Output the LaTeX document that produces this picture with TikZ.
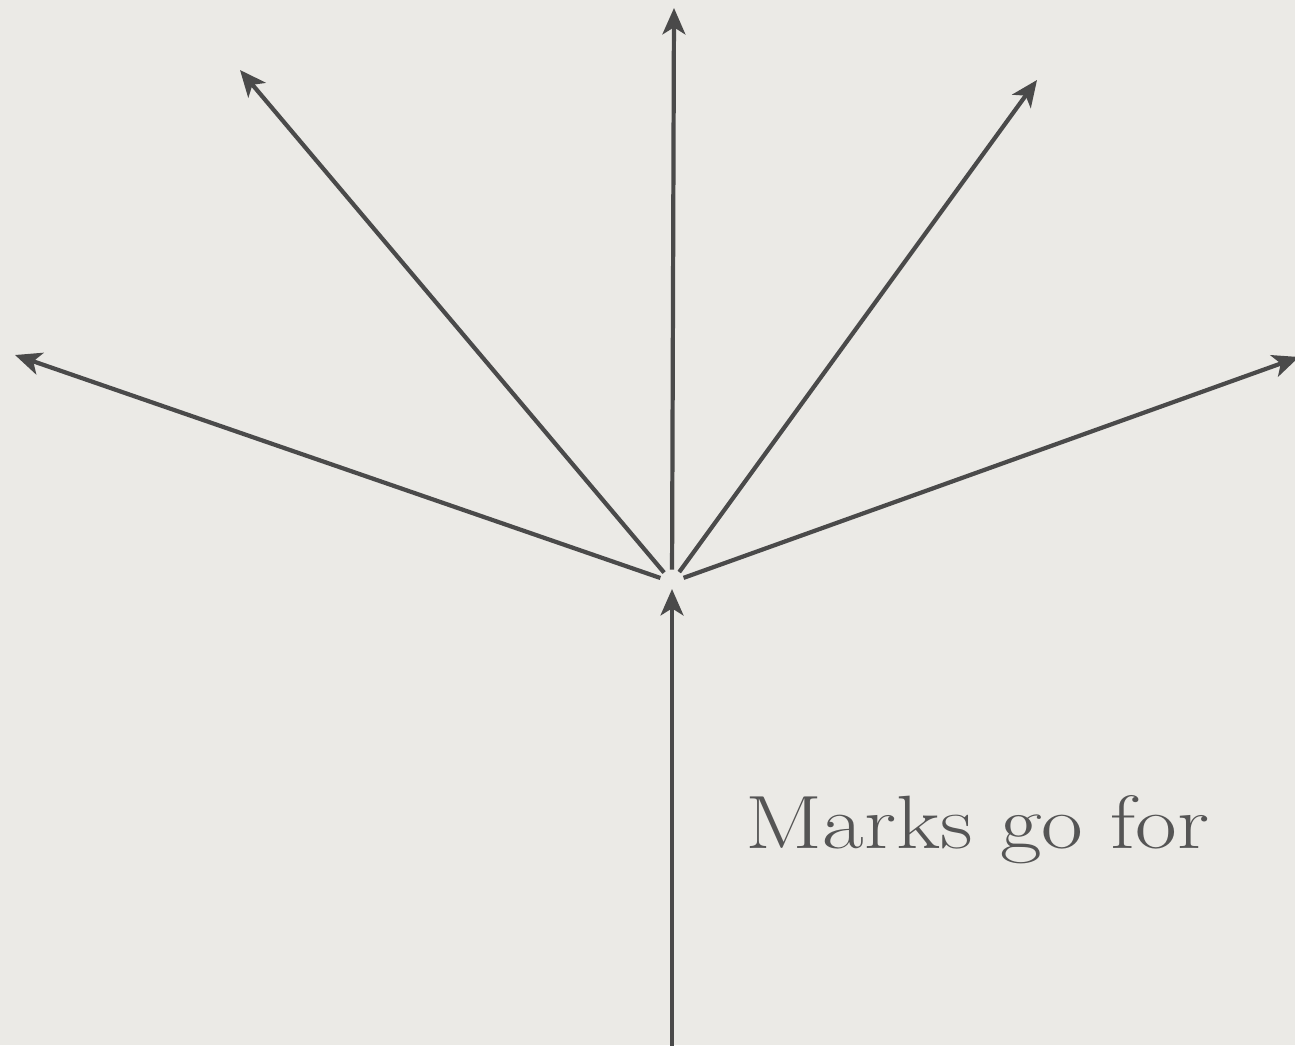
\documentclass[tikz,border=0pt]{standalone}
\usetikzlibrary{arrows.meta}
\definecolor{fondo}{HTML}{EBEAE6}
\definecolor{trazo}{HTML}{4A4A4A}
\definecolor{texto}{HTML}{555555}

\begin{document}
\begin{tikzpicture}[x=0.02cm, y=-0.02cm, >={Stealth[length=15pt, width=13pt, inset=4pt]},
      ray/.style={->, draw=trazo, line width=2.4pt},
      lbl/.style={text=texto, inner sep=0pt, font=\fontsize{43}{50}\selectfont}]
    \fill[fondo] (0,0) rectangle (1295,1045);
    \useasboundingbox (0,0) rectangle (1295,1045);
    % centre and ray ends
    \coordinate (o) at (672,582);
    \coordinate (up) at (674,8);
    \coordinate (ul) at (240,70);
    \coordinate (ur) at (1037,80);
    \coordinate (lf) at (15,355);
    \coordinate (rt) at (1299,357);
    \coordinate (bot) at (672,1050);
    \foreach \e in {up,ul,ur,lf,rt}
      \draw[ray, shorten <=7] (o) -- (\e);
    \draw[ray, shorten >=4] (bot) -- (o);
    \node[lbl, anchor=base west] (marks) at (745,848) {\scalebox{1.2}[1]{Marks go for}};
\end{tikzpicture}
\end{document}
